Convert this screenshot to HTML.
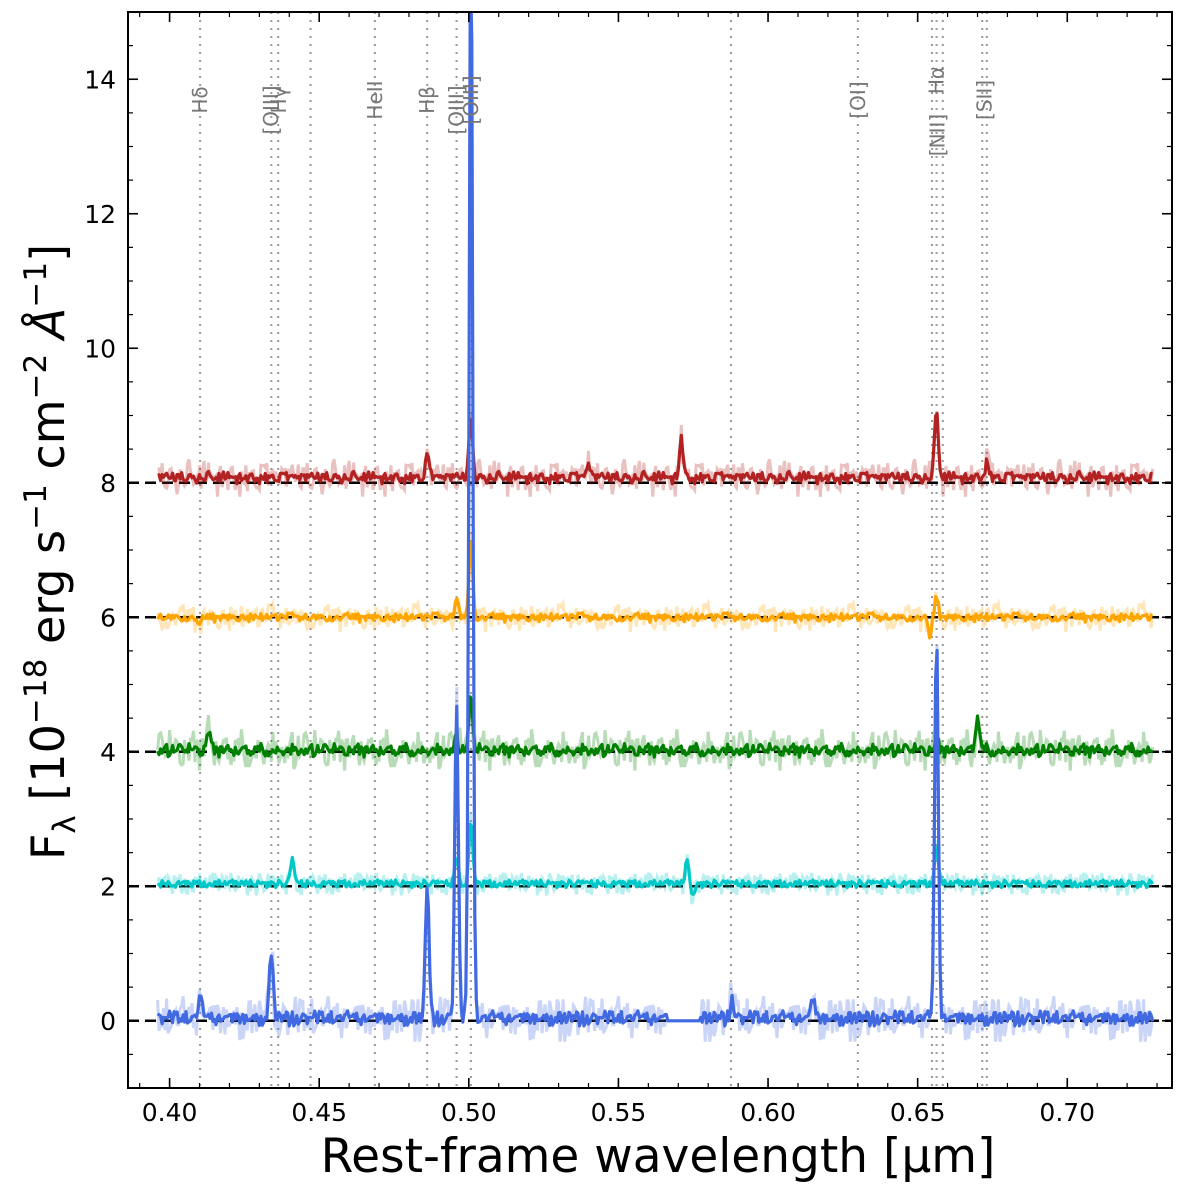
<!DOCTYPE html>
<html><head><meta charset="utf-8"><style>
html,body{margin:0;padding:0;background:#fff;}
svg{display:block;font-family:"DejaVu Sans","Liberation Sans",sans-serif;}
</style></head><body>
<svg id="c" width="1200" height="1200" viewBox="0 0 1200 1200"></svg>
<script>
const xTicks=[0.40,0.45,0.50,0.55,0.60,0.65,0.70];
const xTickLabels=["0.40","0.45","0.50","0.55","0.60","0.65","0.70"];
const yTicks=[0,2,4,6,8,10,12,14];
const yTickLabels=["0","2","4","6","8","10","12","14"];
const lineWaves=[0.4102,0.4340,0.4363,0.4471,0.4686,0.4861,0.4959,0.5007,0.5876,0.6300,0.6548,0.6563,0.6584,0.6716,0.6731];
const lineLabels=[["Hδ",0.4102,100],["[OIII]",0.4352,110],["Hγ",0.4352,100],["HeII",0.4686,100],["Hβ",0.4861,100],["[OIII]",0.4959,110],["[OIII]",0.5007,100],["[OI]",0.6300,100],["[NII]",0.6566,135],["Hα",0.6563,80],["[SII]",0.6724,100]];
const seriesOffsets=[8,6,4,2,0];
const seriesBias=[0.08,0.0,0.02,0.04,0.04];
const seriesColors=["#b22222","#ffa500","#008000","#00c8c8","#4169e1"];
const seriesNoise=[0.11,0.09,0.12,0.07,0.15];
const redPeaks=[[0.4861,0.3],[0.5007,0.9],[0.571,0.6],[0.6563,1.0],[0.6731,0.25],[0.540,0.2]];
const orangePeaks=[[0.4959,0.3],[0.5007,1.2],[0.6563,0.3],[0.654,-0.3],[0.410,-0.15]];
const greenPeaks=[[0.4959,0.2],[0.5007,0.75],[0.413,0.3],[0.670,0.55],[0.6563,0.15]];
const cyanPeaks=[[0.441,0.35],[0.4959,0.4],[0.5007,0.95],[0.573,0.35],[0.575,-0.2],[0.6563,0.6]];
const bluePeaks=[[0.434,1.0],[0.4861,2.0],[0.4959,4.7],[0.5007,16.5],[0.588,0.3],[0.615,0.3],[0.6563,5.7],[0.4102,0.3]];
const allPeaks=[redPeaks,orangePeaks,greenPeaks,cyanPeaks,bluePeaks];
const noiseTable=[0.3,-0.8,0.5,0.1,-0.4,0.9,-0.2,-0.6,0.7,0.2,-0.9,0.4,-0.1,0.6,-0.5,0.8,-0.3,0.0,0.5,-0.7,0.3,-0.2,0.9,-0.4,0.1,-0.8,0.6,-0.1,0.2,-0.6,0.7,-0.3,0.4,-0.9,0.0,0.8,-0.5,0.3,-0.2,0.6,-0.7,0.1,0.5,-0.4,0.9,-0.1,-0.6,0.2,0.7,-0.8,0.3,-0.3,0.4,0.1,-0.5,0.8,-0.2,-0.7,0.6,0.0,-0.4,0.5,-0.9,0.2,0.7,-0.1,0.3,-0.6,0.9,-0.3,0.1,-0.8,0.4,0.6,-0.2,-0.5,0.8,0.0,-0.7,0.3,0.5,-0.4,0.2,-0.9,0.7,-0.1,0.4,-0.6,0.1,0.9,-0.3,-0.2,0.6,-0.8,0.3,0.0,-0.5];
const blueGap=[0.566,0.577];

const L=128,R=1172,T=12,B=1088,X0=0.3861,X1=0.7350,Y0=-1,Y1=15;
const sx=v=>L+(v-X0)/(X1-X0)*(R-L), sy=v=>B-(v-Y0)/(Y1-Y0)*(B-T);
const svg=document.getElementById('c'),NS="http://www.w3.org/2000/svg";
function mk(t,a,p){const e=document.createElementNS(NS,t);for(const k in a)e.setAttribute(k,a[k]);(p||svg).appendChild(e);return e;}
const defs=mk('defs',{});const cp=mk('clipPath',{id:'clip'},defs);mk('rect',{x:L,y:T,width:R-L,height:B-T},cp);
const plot=mk('g',{'clip-path':'url(#clip)'});


lineWaves.forEach(w=>{const l=mk('line',{x1:sx(w),x2:sx(w),y1:T,y2:B,stroke:'#999','stroke-width':2,'stroke-dasharray':'2,6'},plot);

});
seriesOffsets.forEach(o=>{const l=mk('line',{x1:L,x2:R,y1:sy(o),y2:sy(o),stroke:'#000','stroke-width':2.5,'stroke-dasharray':'11,6'},plot);

});
function flux(si,w,k,amp,bias){
 const n=noiseTable.length;let v=seriesOffsets[si]+bias;
 v+=amp*(noiseTable[(k*(si+3)+si*7)%n]*0.7+noiseTable[(k*5+si*11)%n]*0.3);
 allPeaks[si].forEach(p=>{const d=(w-p[0])/0.0006;v+=p[1]*Math.exp(-d*d/2);});
 if(si===4&&w>blueGap[0]&&w<blueGap[1])v=seriesOffsets[si];
 return v;}
seriesOffsets.forEach((o,si)=>{
 let light='',dark='';
 for(let k=0,w=0.396;w<=0.7285;k++,w+=0.0005){
  const fl=flux(si,w,k+13,seriesNoise[si]*3,seriesBias[si]),fd=flux(si,w,k,seriesNoise[si],seriesBias[si]);
  light+=(k?'L':'M')+sx(w).toFixed(1)+','+sy(fl).toFixed(1);
  dark+=(k?'L':'M')+sx(w).toFixed(1)+','+sy(fd).toFixed(1);}
 const a=mk('path',{d:light,fill:'none',stroke:seriesColors[si],'stroke-opacity':0.28,'stroke-width':3},plot);
 
 
 const b=mk('path',{d:dark,fill:'none',stroke:seriesColors[si],'stroke-width':3.2,'stroke-linejoin':'round'},plot);
 
 });
lineLabels.forEach(([t,w,yy])=>{
 const xx=sx(w)+(t==="Hγ"?4:(t==="[OIII]"&&w<0.44?-4:0));
 const e=mk('text',{x:0,y:0,transform:`translate(${xx+7},${yy}) rotate(-90)`,'text-anchor':'middle','font-size':20,fill:'#777'});
 e.textContent=t;
 
 });
const fr=mk('rect',{x:L,y:T,width:R-L,height:B-T,fill:'none',stroke:'#000','stroke-width':2});


for(let m=0.39;m<0.735;m+=0.01){const x=sx(m);mk('line',{x1:x,x2:x,y1:B,y2:B-5,stroke:'#000','stroke-width':1.2});mk('line',{x1:x,x2:x,y1:T,y2:T+5,stroke:'#000','stroke-width':1.2});}
for(let m=-0.5;m<15;m+=0.5){const y=sy(m);mk('line',{x1:L,x2:L+5,y1:y,y2:y,stroke:'#000','stroke-width':1.2});mk('line',{x1:R,x2:R-5,y1:y,y2:y,stroke:'#000','stroke-width':1.2});}
xTicks.forEach((v,i)=>{const x=sx(v);
 mk('line',{x1:x,x2:x,y1:B,y2:B-10,stroke:'#000','stroke-width':1.6});mk('line',{x1:x,x2:x,y1:T,y2:T+10,stroke:'#000','stroke-width':1.6});
 const t=mk('text',{x:x,y:B+33,'text-anchor':'middle','font-size':25});t.textContent=xTickLabels[i];
 
 });
yTicks.forEach((v,i)=>{const y=sy(v);
 mk('line',{x1:L,x2:L+10,y1:y,y2:y,stroke:'#000','stroke-width':1.6});mk('line',{x1:R,x2:R-10,y1:y,y2:y,stroke:'#000','stroke-width':1.6});
 const t=mk('text',{x:L-12,y:y+9,'text-anchor':'end','font-size':25});t.textContent=yTickLabels[i];
 
 });
const xt=mk('text',{x:658,y:1172,'text-anchor':'middle','font-size':47});xt.textContent='Rest-frame wavelength [μm]';


const yt=mk('text',{x:0,y:0,transform:'translate(64,552) rotate(-90)','text-anchor':'middle','font-size':46});
yt.innerHTML='F<tspan font-size="31" dy="11">λ</tspan><tspan dy="-11"> [10</tspan><tspan font-size="31" dy="-18">−18</tspan><tspan dy="18"> erg s</tspan><tspan font-size="31" dy="-18">−1</tspan><tspan dy="18"> cm</tspan><tspan font-size="31" dy="-18">−2</tspan><tspan dy="18" font-style="italic"> Å</tspan><tspan font-size="31" dy="-18">−1</tspan><tspan dy="18">]</tspan>';


</script>
</body></html>
